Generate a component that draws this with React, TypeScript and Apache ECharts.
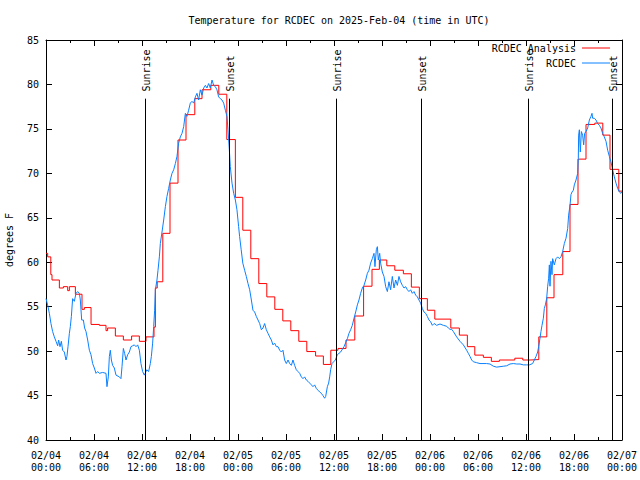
import React, { useEffect, useRef } from "react";
import * as echarts from "echarts";

const TITLE = "Temperature for RCDEC on 2025-Feb-04 (time in UTC)";
const Y_NAME = "degrees F";
const DAY_LABELS = ["02/04", "02/05", "02/06", "02/07"];
const SERIES_NAMES = ["RCDEC Analysis", "RCDEC"];
const SERIES_COLORS = ["#ff0000", "#0a80ff"];
const FONT = "DejaVu Sans Mono";

// Hours since 02/04 00:00 UTC
const analysisHours = [
  0, 0.21, 0.6, 0.75, 1.67, 2.17, 2.71, 2.92, 3.67, 4.5, 4.8, 5.63, 6.67, 7.5, 7.7, 8.67, 9.67, 10.7, 11.67, 12.5,
  13.5, 13.67, 13.9, 14.6, 15.5, 16.5, 17.5, 18.6, 19.5, 20.6, 21.6, 22.6, 23.67, 24.6, 25.6, 26.6, 27.6, 28.6,
  29.6, 30.6, 31.6, 32.6, 33.7, 34.67, 35.6, 36.5, 37.5, 38.6, 39.7, 40.75, 41.67, 42.6, 43.6, 44.67, 45.67,
  46.67, 47.67, 48.6, 50.6, 51.67, 52.67, 53.6, 54.67, 55.67, 56.67, 58.6, 59.6, 60.5, 61.6, 62.6, 63.5, 64.6,
  65.5, 66.5, 67.5, 68.6, 69.6, 70.5, 71.6, 72,
];
const analysisTemps = [
  61.0, 60.6, 58.6, 58.0, 57.1, 57.25, 56.8, 57.25, 56.4, 54.7, 54.9, 53.0, 52.9, 52.3, 52.6, 51.7, 51.25, 51.7,
  51.1, 51.6, 52.7, 57.1, 57.8, 63.25, 68.9, 73.75, 76.6, 78.4, 79.4, 79.9, 78.9, 73.8, 67.3, 63.6, 60.4, 57.6,
  56.1, 54.7, 53.4, 52.3, 51.1, 49.95, 49.45, 48.5, 50.1, 50.3, 51.25, 53.95, 57.3, 59.2, 60.25, 59.6, 59.1,
  58.7, 57.2, 55.9, 54.6, 53.6, 52.6, 51.8, 50.5, 49.55, 49.3, 48.85, 49.0, 49.2, 49.0, 49.05, 51.6, 56.0, 58.6,
  61.2, 66.5, 71.6, 75.5, 75.65, 74.3, 70.45, 68.0, 68.0,
];

const obsHours = [
  0.0, 0.2, 0.42, 0.62, 0.83, 1.04, 1.25, 1.46, 1.58, 1.75, 1.92, 2.08, 2.29, 2.5, 2.62, 2.75, 2.92, 3.04, 3.17,
  3.33, 3.54, 3.75, 3.96, 4.17, 4.29, 4.46, 4.67, 4.83, 5.0, 5.21, 5.42, 5.62, 5.83, 6.04, 6.25, 6.46, 6.67, 7.08,
  7.5, 7.62, 7.79, 7.92, 8.04, 8.17, 8.33, 8.54, 8.75, 9.17, 9.37, 9.5, 9.67, 9.83, 10.0, 10.21, 10.42, 10.62,
  10.83, 11.04, 11.25, 11.46, 11.67, 11.87, 12.08, 12.29, 12.5, 12.6, 12.83, 13.04, 13.17, 13.33, 13.46, 13.58,
  13.67, 13.87, 14.0, 14.17, 14.29, 14.5, 14.71, 14.92, 15.12, 15.33, 15.54, 15.75, 15.96, 16.17, 16.37, 16.58,
  16.79, 17.0, 17.21, 17.42, 17.62, 17.83, 18.04, 18.25, 18.46, 18.67, 18.87, 19.08, 19.29, 19.5, 19.71, 19.92,
  20.12, 20.33, 20.54, 20.75, 20.96, 21.17, 21.37, 21.58, 21.79, 22.0, 22.21, 22.42, 22.62, 22.75, 22.92, 23.04,
  23.25, 23.46, 23.67, 23.87, 24.08, 24.2, 24.4, 24.6, 24.83, 25.04, 25.25, 25.46, 25.67, 25.87, 26.08, 26.29,
  26.5, 26.71, 26.92, 27.12, 27.33, 27.54, 27.75, 27.96, 28.17, 28.37, 28.58, 28.79, 29.0, 29.21, 29.42, 29.62,
  29.83, 30.04, 30.25, 30.46, 30.67, 30.87, 31.08, 31.29, 31.5, 31.71, 31.92, 32.12, 32.33, 32.54, 32.75, 32.96,
  33.17, 33.37, 33.58, 33.79, 34.0, 34.21, 34.42, 34.62, 34.83, 34.96, 35.17, 35.33, 35.46, 35.58, 35.75, 35.96,
  36.17, 36.42, 36.83, 37.25, 37.67, 37.87, 38.08, 38.29, 38.5, 38.71, 38.92, 39.12, 39.33, 39.54, 39.75, 39.96,
  40.17, 40.37, 40.58, 40.79, 41.0, 41.12, 41.29, 41.42, 41.54, 41.71, 41.83, 42.04, 42.25, 42.46, 42.67, 42.87,
  43.08, 43.29, 43.5, 43.71, 43.92, 44.12, 44.33, 44.54, 44.75, 44.96, 45.17, 45.37, 45.58, 45.79, 46.0, 46.21,
  46.42, 46.62, 46.83, 47.04, 47.25, 47.46, 47.67, 47.87, 48.08, 48.29, 48.5, 48.62, 48.83, 49.25, 49.67, 50.08,
  50.29, 50.5, 50.71, 50.92, 51.33, 51.75, 52.17, 52.58, 52.79, 53.0, 53.21, 53.42, 53.83, 54.25, 55.08, 55.5,
  55.92, 56.33, 56.75, 57.17, 57.58, 58.0, 58.42, 58.83, 59.25, 59.67, 60.08, 60.42, 60.83, 61.04, 61.25, 61.46,
  61.58, 61.75, 61.87, 62.0, 62.17, 62.29, 62.42, 62.58, 62.71, 62.83, 62.92, 63.0, 63.12, 63.25, 63.33, 63.54,
  63.75, 63.96, 64.17, 64.37, 64.58, 64.79, 65.0, 65.21, 65.33, 65.5, 65.62, 65.75, 65.92, 66.04, 66.25, 66.46,
  66.54, 66.58, 66.67, 66.79, 66.92, 67.08, 67.21, 67.33, 67.5, 67.71, 67.92, 68.12, 68.25, 68.33, 68.54, 68.75,
  68.96, 69.17, 69.37, 69.58, 69.79, 70.0, 70.21, 70.42, 70.62, 70.83, 71.04, 71.25, 71.46, 71.67, 71.87, 72.0,
];
const obsTemps = [
  55.9, 55.2, 54.25, 53.1, 52.2, 51.6, 51.1, 50.6, 51.25, 50.5, 51.1, 50.1, 49.9, 49.0, 49.4, 50.5, 52.0, 52.75,
  53.9, 55.9, 55.6, 56.5, 56.7, 56.5, 55.75, 53.5, 53.5, 52.6, 52.2, 51.25, 50.1, 49.6, 48.6, 48.1, 47.5, 47.7,
  47.5, 47.6, 47.5, 46.0, 47.1, 49.4, 50.1, 49.0, 48.4, 48.1, 47.3, 47.1, 46.9, 48.25, 50.3, 49.75, 49.0, 49.6,
  49.9, 50.5, 50.6, 50.7, 50.5, 50.7, 50.1, 48.6, 47.7, 47.3, 47.7, 47.9, 47.7, 48.6, 49.4, 50.9, 52.75, 54.6,
  56.9, 58.0, 59.1, 60.6, 62.1, 63.4, 64.75, 66.25, 67.4, 68.3, 69.25, 70.0, 70.4, 71.1, 71.9, 73.4, 74.1, 74.5,
  75.25, 76.75, 76.4, 77.1, 77.9, 78.1, 77.9, 78.6, 79.0, 78.25, 79.4, 78.8, 79.6, 79.9, 79.6, 80.1, 79.6, 80.5,
  79.9, 79.75, 79.4, 78.6, 78.4, 78.25, 77.9, 77.1, 76.4, 74.9, 72.6, 70.75, 68.9, 67.75, 67.0, 65.9, 64.0, 62.9,
  61.4, 59.9, 59.1, 58.4, 57.6, 56.9, 55.75, 54.6, 54.4, 53.9, 53.5, 53.1, 52.4, 52.6, 53.1, 52.4, 52.0, 51.6,
  51.25, 50.7, 50.9, 50.5, 50.5, 50.1, 49.9, 50.1, 49.0, 48.6, 49.0, 48.6, 48.4, 49.0, 48.4, 47.9, 47.7, 47.5,
  47.1, 46.9, 47.1, 46.75, 46.6, 46.4, 46.2, 46.0, 46.2, 45.8, 45.6, 45.4, 45.25, 45.0, 44.7, 44.9, 46.0, 46.4,
  47.1, 47.9, 48.6, 48.8, 49.0, 49.6, 49.9, 50.5, 51.4, 52.0, 52.4, 52.9, 53.7, 54.4, 55.2, 55.75, 56.5, 57.1,
  57.4, 58.0, 58.75, 59.1, 59.9, 60.4, 61.0, 59.5, 61.4, 61.75, 60.25, 61.0, 59.9, 58.9, 58.4, 57.25, 56.7, 57.8,
  56.9, 58.4, 57.1, 58.0, 57.4, 58.4, 57.8, 57.4, 57.1, 57.25, 56.9, 56.7, 56.9, 56.5, 56.7, 56.3, 56.1, 55.75,
  55.4, 54.8, 54.4, 54.25, 53.9, 53.5, 53.3, 52.9, 53.1, 53.05, 52.9, 53.05, 52.9, 52.8, 52.6, 52.45, 52.45, 52.2,
  51.6, 51.1, 50.7, 50.1, 49.75, 49.4, 49.0, 48.8, 48.7, 48.6, 48.6, 48.55, 48.3, 48.2, 48.25, 48.3, 48.35, 48.55,
  48.6, 48.55, 48.55, 48.45, 48.45, 48.45, 48.6, 49.0, 49.4, 49.9, 50.5, 51.45, 52.2, 52.9, 53.7, 54.8, 55.2,
  55.9, 57.3, 58.2, 59.7, 57.3, 60.1, 58.6, 60.4, 59.7, 60.4, 60.6, 60.4, 60.6, 61.2, 62.1, 62.7, 63.8, 65.3,
  66.4, 67.6, 67.9, 68.1, 68.7, 69.25, 70.0, 71.7, 74.3, 74.9, 72.4, 74.7, 74.3, 73.2, 74.5, 74.7, 75.1, 76.0,
  76.4, 76.75, 76.2, 76.2, 76.0, 75.6, 75.4, 75.1, 74.5, 74.1, 73.6, 72.6, 71.9, 71.3, 70.4, 69.6, 68.9, 68.3,
  67.9, 67.75, 67.9,
];

const sunEventHours = [12.4, 22.92, 36.33, 46.96, 60.3, 70.8];
const sunEventNames = ["Sunrise", "Sunset", "Sunrise", "Sunset", "Sunrise", "Sunset"];
const SUN_LINE_TOP = 78.4;
const SUN_LABEL_BOTTOM = 79.2;

const pad = (n: number) => (n < 10 ? "0" + n : "" + n);
const timeLabel = (v: number) => {
  const d = Math.floor(v / 24 + 1e-9);
  const h = Math.round(v - d * 24);
  return DAY_LABELS[d] + "\n" + pad(h) + ":00";
};

export default function App() {
  const ref = useRef<HTMLDivElement>(null);
  useEffect(() => {
    if (!ref.current) return;
    const chart = echarts.init(ref.current, null, { renderer: "svg" });
    const axisLineStyle = { color: "#000", width: 1 };
    const tickCommon = { inside: true, length: 6, lineStyle: { color: "#000", width: 1 } };
    const labelCommon = { color: "#000", fontSize: 10, fontFamily: FONT };
    const xBase = {
      type: "value",
      min: 0,
      max: 72,
      interval: 6,
      axisLine: { show: true, onZero: false, lineStyle: axisLineStyle },
      axisTick: tickCommon,
      minorTick: { show: true, splitNumber: 2, length: 3, lineStyle: { color: "#000", width: 1 } },
      splitLine: { show: false },
      minorSplitLine: { show: false },
    };
    const yBase = {
      type: "value",
      min: 40,
      max: 85,
      interval: 5,
      axisLine: { show: true, onZero: false, lineStyle: axisLineStyle },
      axisTick: tickCommon,
      splitLine: { show: false },
    };
    const option: any = {
      animation: false,
      backgroundColor: "#fff",
      title: {
        text: TITLE,
        left: 334,
        textAlign: "center",
        top: 10,
        textStyle: { ...labelCommon, fontWeight: "normal" },
      },
      grid: {
        left: 46,
        right: 18,
        top: 40,
        bottom: 40,
        containLabel: false,
        outerBoundsMode: "none",
      },
      xAxis: [
        {
          ...xBase,
          position: "bottom",
          axisLabel: { ...labelCommon, formatter: timeLabel, margin: 9, lineHeight: 12 },
        },
        { ...xBase, position: "top", axisLabel: { show: false } },
      ],
      yAxis: [
        {
          ...yBase,
          position: "left",
          axisLabel: { ...labelCommon, margin: 7 },
          name: Y_NAME,
          nameLocation: "middle",
          nameGap: 32,
          nameTextStyle: { ...labelCommon },
        },
        { ...yBase, position: "right", axisLabel: { show: false } },
      ],
      series: [
        {
          name: SERIES_NAMES[0],
          type: "line",
          step: "end",
          data: analysisHours.map((h, i) => [h, analysisTemps[i]]),
          symbol: "none",
          lineStyle: { color: SERIES_COLORS[0], width: 1 },
          itemStyle: { color: SERIES_COLORS[0] },
          markLine: {
            silent: true,
            symbol: ["none", "none"],
            label: { show: false },
            lineStyle: { color: "#000", width: 1, type: "solid" },
            data: sunEventHours.map((h) => [{ coord: [h, SUN_LINE_TOP] }, { coord: [h, 40] }]),
          },
        },
        {
          name: SERIES_NAMES[1],
          type: "line",
          data: obsHours.map((h, i) => [h, obsTemps[i]]),
          symbol: "none",
          lineStyle: { color: SERIES_COLORS[1], width: 1 },
          itemStyle: { color: SERIES_COLORS[1] },
        },
      ],
    };
    chart.setOption(option);

    const graphics: any[] = [];
    const yLabel = chart.convertToPixel({ yAxisIndex: 0 }, SUN_LABEL_BOTTOM) as number;
    sunEventHours.forEach((h, i) => {
      const px = chart.convertToPixel({ xAxisIndex: 0 }, h) as number;
      graphics.push({
        type: "text",
        x: px + 1,
        y: yLabel,
        rotation: Math.PI / 2,
        style: {
          text: sunEventNames[i],
          fill: "#000",
          font: `10px "${FONT}"`,
          align: "left",
          verticalAlign: "middle",
        },
        z: 10,
      });
    });
    // legend (top right, text right-aligned, line sample on the right)
    SERIES_NAMES.forEach((name, i) => {
      const y = 48 + i * 15;
      graphics.push({
        type: "text",
        x: 576,
        y,
        style: { text: name, fill: "#000", font: `10px "${FONT}"`, align: "right", verticalAlign: "middle" },
        z: 10,
      });
      graphics.push({
        type: "line",
        shape: { x1: 582, y1: y, x2: 610, y2: y },
        style: { stroke: SERIES_COLORS[i], lineWidth: 1 },
        z: 10,
      });
    });
    chart.setOption({ graphic: graphics });

    return () => chart.dispose();
  }, []);
  return (
    <div
      ref={ref}
      style={{ position: "absolute", left: 0, top: 0, width: 640, height: 480, background: "#fff" }}
    />
  );
}
